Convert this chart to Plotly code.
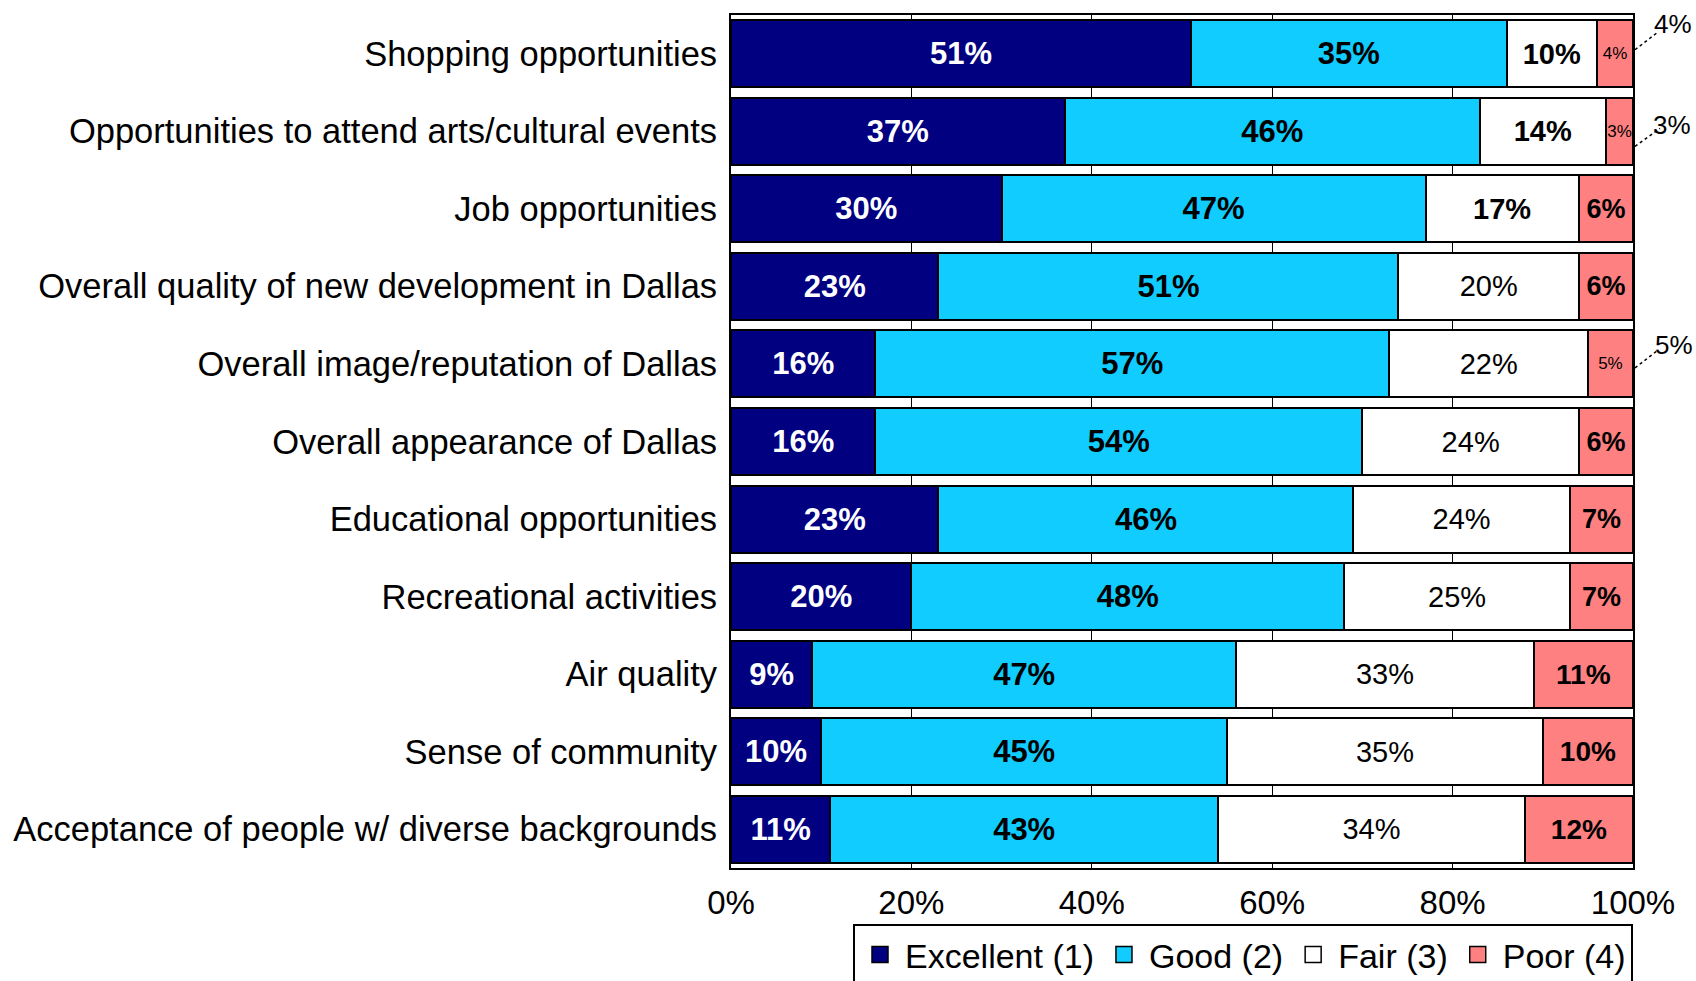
import plotly.graph_objects as go

categories = [
    "Shopping opportunities",
    "Opportunities to attend arts/cultural events",
    "Job opportunities",
    "Overall quality of new development in Dallas",
    "Overall image/reputation of Dallas",
    "Overall appearance of Dallas",
    "Educational opportunities",
    "Recreational activities",
    "Air quality",
    "Sense of community",
    "Acceptance of people w/ diverse backgrounds",
]
excellent = [51, 37, 30, 23, 16, 16, 23, 20, 9, 10, 11]
good = [35, 46, 47, 51, 57, 54, 46, 48, 47, 45, 43]
fair = [10, 14, 17, 20, 22, 24, 24, 25, 33, 35, 34]
poor = [4, 3, 6, 6, 5, 6, 7, 7, 11, 10, 12]
series_names = ["Excellent (1)", "Good (2)", "Fair (3)", "Poor (4)"]
x_tickvals = [0, 20, 40, 60, 80, 100]
x_ticktext = ["0%", "20%", "40%", "60%", "80%", "100%"]

FONT = "Liberation Sans, Arial, sans-serif"
colors = ["#000080", "#10CCFF", "#FFFFFF", "#FF8080"]
series = [excellent, good, fair, poor]
X_RANGE = [0, 100]

# pixel offsets (leader start, leader end, label centre) for outside labels
callout_offsets = {
    "Shopping opportunities": ((2, 4), (24, 21), (40, 30)),
    "Opportunities to attend arts/cultural events": ((2, -15), (27, 3), (39, 6)),
    "Overall image/reputation of Dallas": ((2, -4), (24, 13), (41, 19)),
}


def label_font(idx, v):
    if idx == 0:
        return 31, "white", "bold"
    if idx == 1:
        return 31, "black", "bold"
    if idx == 2:
        return 29, "black", ("bold" if v < 20 else "normal")
    if v <= 5:
        return 17, "black", "normal"
    if v < 10:
        return 27, "black", "bold"
    return 28, "black", "bold"


fig = go.Figure()
for i, (name, vals) in enumerate(zip(series_names, series)):
    fonts = [label_font(i, v) for v in vals]
    fig.add_trace(go.Bar(
        y=categories, x=vals, name=name, orientation="h", showlegend=False,
        marker=dict(color=colors[i], line=dict(color="black", width=2)),
        text=[f"{v}%" for v in vals],
        textposition="inside", insidetextanchor="middle", textangle=0,
        constraintext="none",
        textfont=dict(family=FONT,
                      size=[f[0] for f in fonts],
                      color=[f[1] for f in fonts],
                      weight=[f[2] for f in fonts]),
        hoverinfo="skip",
    ))

# legend entries with larger square swatches
for i, name in enumerate(series_names):
    fig.add_trace(go.Scatter(
        x=[None], y=[None], mode="markers", name=name,
        marker=dict(symbol="square", size=16, color=colors[i],
                    line=dict(color="black", width=1.5)),
        hoverinfo="skip",
    ))

# outside labels with leader lines for the smallest "Poor" values
for cat, e, g, f, p in zip(categories, excellent, good, fair, poor):
    if p <= 5:
        total = e + g + f + p
        (sx, sy), (ex, ey), (lx, ly) = callout_offsets.get(cat, ((2, 0), (24, 17), (40, 28)))
        fig.add_annotation(x=total, y=cat, xref="x", yref="y", text=f"{p}%",
                           showarrow=False, xanchor="center", yanchor="middle",
                           xshift=lx, yshift=ly,
                           font=dict(family=FONT, size=26, color="black"))
        xpaper = (total - X_RANGE[0]) / (X_RANGE[1] - X_RANGE[0])
        fig.add_shape(type="line", xref="paper", yref="y",
                      xsizemode="pixel", xanchor=xpaper, x0=sx, x1=ex,
                      ysizemode="pixel", yanchor=cat, y0=sy, y1=ey,
                      line=dict(color="black", width=1.5, dash="dot"))

fig.update_layout(
    width=1696, height=981,
    margin=dict(l=731, r=63, t=15, b=113, autoexpand=False),
    barmode="stack", bargap=0.135,
    paper_bgcolor="white", plot_bgcolor="white",
    font=dict(family=FONT, color="black"),
    showlegend=True,
    legend=dict(orientation="h", x=1, xanchor="right", y=-0.0655, yanchor="top",
                bordercolor="black", borderwidth=2,
                font=dict(family=FONT, size=34, color="black"),
                itemwidth=40, tracegroupgap=0, traceorder="normal"),
)
fig.update_xaxes(range=X_RANGE, tickvals=x_tickvals, ticktext=x_ticktext,
                 showgrid=True, gridcolor="black", gridwidth=1,
                 showline=True, linecolor="black", linewidth=2, mirror=True,
                 ticks="", ticklabelstandoff=4, zeroline=False,
                 tickfont=dict(family=FONT, size=33, color="black"))
fig.update_yaxes(categoryorder="array", categoryarray=categories, autorange="reversed",
                 showline=True, linecolor="black", linewidth=2, mirror=True,
                 ticks="", ticklabelstandoff=5, showgrid=False,
                 tickfont=dict(family=FONT, size=34.5, color="black"))

fig.write_html(
    "out.html",
    config={"displayModeBar": False},
    post_script="document.body.style.margin='0';document.body.style.overflow='hidden';",
)
